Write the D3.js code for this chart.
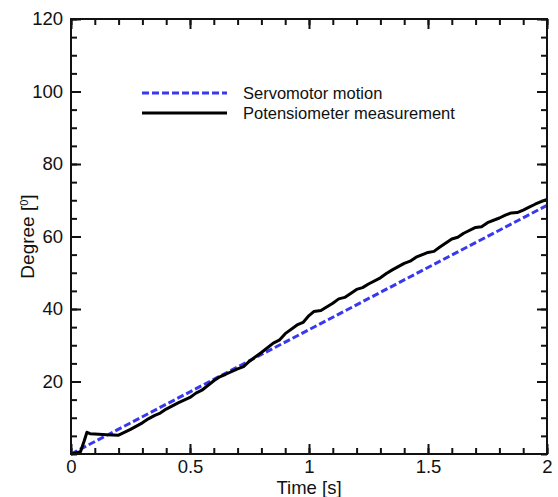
<!DOCTYPE html>
<html>
<head>
<meta charset="utf-8">
<script src="https://cdn.jsdelivr.net/npm/d3@7"></script>
<style>
  body { margin: 0; background: #fff; }
  svg text { font-family: "Liberation Sans", Arial, sans-serif; fill: #111; }
</style>
</head>
<body>
<svg id="chart" width="558" height="497">
  <g id="lines"></g>
  <g id="x_axis"></g>
  <g id="x_minor"></g>
  <g id="x_top"></g>
  <g id="x_top_minor"></g>
  <g id="y_axis"></g>
  <g id="y_minor"></g>
  <g id="y_right"></g>
  <g id="y_right_minor"></g>
  <g id="legend"></g>
</svg>
<script>
  // servomotor command: straight ramp
  let servo_time = [0, 2]
  let servo_deg = [0, 68.6]

  // potentiometer reading, estimated off the plot
  let pot_time = [0, 0.02, 0.04, 0.055, 0.067, 0.08, 0.1, 0.15, 0.2, 0.25, 0.3, 0.325, 0.35, 0.375,
    0.4, 0.45, 0.5, 0.525, 0.55, 0.6, 0.625, 0.65, 0.7, 0.725, 0.75, 0.8, 0.85, 0.875, 0.9,
    0.95, 0.975, 1.0, 1.02, 1.05, 1.1, 1.125, 1.15, 1.2, 1.225, 1.25, 1.3, 1.325, 1.35, 1.4,
    1.425, 1.45, 1.5, 1.525, 1.55, 1.6, 1.625, 1.65, 1.7, 1.725, 1.75, 1.8, 1.825, 1.85, 1.875,
    1.9, 1.925, 1.95, 1.975, 2.0]
  let pot_deg = [0, 0.3, 0.6, 3.5, 6.0, 5.6, 5.5, 5.3, 5.2, 6.8, 8.6, 9.7, 10.6, 11.3,
    12.4, 14.1, 15.6, 16.8, 17.6, 20.2, 21.3, 22.0, 23.5, 24.1, 25.6, 28.0, 30.6, 31.4, 33.2,
    35.6, 36.3, 38.2, 39.3, 39.6, 41.6, 42.8, 43.2, 45.4, 45.9, 46.9, 48.6, 49.8, 50.8, 52.6,
    53.2, 54.3, 55.6, 55.9, 57.1, 59.3, 59.8, 60.9, 62.5, 62.7, 63.8, 65.1, 65.9, 66.5, 66.6,
    67.3, 68.1, 68.9, 69.6, 70.2]

  let x_ticks = [0, 0.5, 1, 1.5, 2]
  let x_minor_ticks = d3.range(0, 2.001, 0.1).map(d => +d.toFixed(1))
  let y_ticks = [20, 40, 60, 80, 100, 120]
  let y_minor_ticks = d3.range(0, 121, 5)

  let legend_labels = ["Servomotor motion", "Potensiometer measurement"]

  function make_scales(margin) {
    return {
      x: d3.scaleLinear().domain([0, 2]).range([margin.left, 558 - margin.right]),
      y: d3.scaleLinear().domain([0, 120]).range([497 - margin.bottom, margin.top])
    }
  }

  function draw_lines(scales) {
    let line = d3.line().x(d => scales.x(d[0])).y(d => scales.y(d[1]))
    let servo = servo_time.map((t, i) => [t, servo_deg[i]])
    let pot = pot_time.map((t, i) => [t, pot_deg[i]])

    d3.select("#lines").append("path")
      .attr("d", line(servo))
      .attr("fill", "none")
      .attr("stroke", "#3838ee")
      .attr("stroke-width", 3)
      .attr("stroke-dasharray", "7,3")

    d3.select("#lines").append("path")
      .attr("d", line(pot))
      .attr("fill", "none")
      .attr("stroke", "#000")
      .attr("stroke-width", 3)
      .attr("stroke-linejoin", "round")
  }

  function style_axis(g, size) {
    g.select(".domain").remove()
    g.selectAll(".tick line").attr("stroke", "#111").attr("stroke-width", 2)
    g.selectAll(".tick text").style("font-size", size + "px")
  }

  function draw_axes(scales, margin) {
    let bottom = 497 - margin.bottom
    let right = 558 - margin.right

    d3.select("#x_axis").attr("transform", `translate(0, ${bottom})`)
      .call(d3.axisBottom(scales.x).tickValues(x_ticks).tickSize(-10).tickPadding(6)
        .tickFormat(d3.format("")))
      .call(g => style_axis(g, 18.5))
    d3.select("#x_minor").attr("transform", `translate(0, ${bottom})`)
      .call(d3.axisBottom(scales.x).tickValues(x_minor_ticks).tickSize(-6).tickFormat(""))
      .call(g => style_axis(g, 0))
    d3.select("#x_top").attr("transform", `translate(0, ${margin.top})`)
      .call(d3.axisTop(scales.x).tickValues(x_ticks).tickSize(-10).tickFormat(""))
      .call(g => style_axis(g, 0))
    d3.select("#x_top_minor").attr("transform", `translate(0, ${margin.top})`)
      .call(d3.axisTop(scales.x).tickValues(x_minor_ticks).tickSize(-6).tickFormat(""))
      .call(g => style_axis(g, 0))

    d3.select("#y_axis").attr("transform", `translate(${margin.left}, 0)`)
      .call(d3.axisLeft(scales.y).tickValues(y_ticks).tickSize(-10).tickPadding(8))
      .call(g => style_axis(g, 18.5))
    d3.select("#y_minor").attr("transform", `translate(${margin.left}, 0)`)
      .call(d3.axisLeft(scales.y).tickValues(y_minor_ticks).tickSize(-6).tickFormat(""))
      .call(g => style_axis(g, 0))
    d3.select("#y_right").attr("transform", `translate(${right}, 0)`)
      .call(d3.axisRight(scales.y).tickValues(y_ticks).tickSize(-10).tickFormat(""))
      .call(g => style_axis(g, 0))
    d3.select("#y_right_minor").attr("transform", `translate(${right}, 0)`)
      .call(d3.axisRight(scales.y).tickValues(y_minor_ticks).tickSize(-6).tickFormat(""))
      .call(g => style_axis(g, 0))

    // frame
    d3.select("#chart").append("rect")
      .attr("x", margin.left).attr("y", margin.top)
      .attr("width", right - margin.left).attr("height", bottom - margin.top)
      .attr("fill", "none").attr("stroke", "#111").attr("stroke-width", 2)

    d3.select("#chart").append("text")
      .attr("x", (margin.left + right) / 2).attr("y", 494)
      .attr("text-anchor", "middle").style("font-size", "18.5px")
      .text("Time [s]")

    let ylab = d3.select("#chart").append("text")
      .attr("transform", `translate(34, ${(margin.top + bottom) / 2}) rotate(-90)`)
      .attr("text-anchor", "middle").style("font-size", "19px")
    ylab.append("tspan").text("Degree [")
    ylab.append("tspan").attr("baseline-shift", "super").style("font-size", "11px").text("0")
    ylab.append("tspan").text("]")
  }

  function draw_legend() {
    let g = d3.select("#legend")
    let rows = [
      {y: 93, color: "#3838ee", dash: "7,3"},
      {y: 113, color: "#000", dash: null}
    ]
    rows.forEach((r, i) => {
      g.append("line")
        .attr("x1", 142).attr("x2", 227).attr("y1", r.y).attr("y2", r.y)
        .attr("stroke", r.color).attr("stroke-width", 3)
        .attr("stroke-dasharray", r.dash)
      g.append("text")
        .attr("x", 243).attr("y", r.y + 6)
        .style("font-size", "16.5px")
        .text(legend_labels[i])
    })
  }

  function visualize() {
    let margin = {top: 19, right: 11, bottom: 43, left: 71}
    let scales = make_scales(margin)
    draw_lines(scales)
    draw_axes(scales, margin)
    draw_legend()
  }

  visualize()
</script>
</body>
</html>
